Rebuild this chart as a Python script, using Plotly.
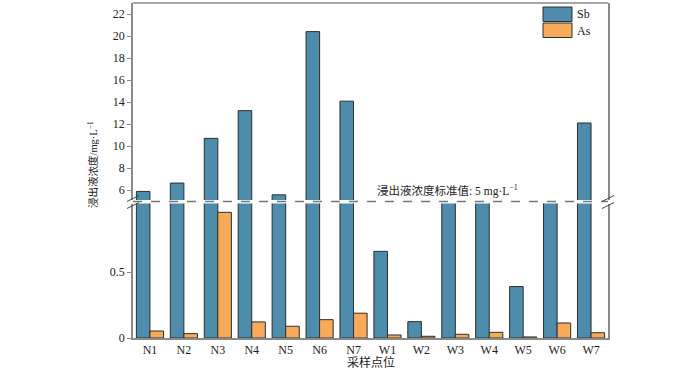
import plotly.graph_objects as go

sites = ["N1", "N2", "N3", "N4", "N5", "N6", "N7", "W1", "W2", "W3", "W4", "W5", "W6", "W7"]
sb = [5.88, 6.64, 10.7, 13.22, 5.57, 20.4, 14.08, 0.657, 0.124, 2.5, 3.0, 0.39, 2.2, 12.1]
as_ = [0.053, 0.033, 0.953, 0.122, 0.089, 0.139, 0.188, 0.023, 0.013, 0.028, 0.043, 0.008, 0.114, 0.04]
upper_ticks = [6, 8, 10, 12, 14, 16, 18, 20, 22]
lower_ticks = [0, 0.5]

SB_COLOR = "#4E8CAB"
AS_COLOR = "#F7AB5A"
EDGE = "#2e2e2e"
AX = "#8a8a8a"
FONT = "Liberation Serif, Times New Roman, Noto Sans CJK SC, serif"

W, H = 700, 370
L, R, T, B = 133, 92, 3, 32
PW, PH = W - L - R, H - T - B

def px(x):
    return (x - L) / PW

def py(y):
    return (H - B - y) / PH

fig = go.Figure()
for ax in ["y", "y2"]:
    fig.add_trace(go.Bar(x=sites, y=sb, name="Sb", yaxis=ax, marker=dict(color=SB_COLOR, line=dict(color=EDGE, width=1)), showlegend=False))
    fig.add_trace(go.Bar(x=sites, y=as_, name="As", yaxis=ax, marker=dict(color=AS_COLOR, line=dict(color=EDGE, width=1)), showlegend=False))

fig.update_layout(
    width=W, height=H,
    margin=dict(l=L, r=R, t=T, b=B),
    paper_bgcolor="white", plot_bgcolor="white",
    barmode="group", bargap=0.2, bargroupgap=0,
    font=dict(family=FONT, size=12, color="#222"),
    xaxis=dict(showline=True, linecolor=AX, linewidth=1.5, ticks="", showgrid=False,
               tickfont=dict(family=FONT, size=12, color="#222"), anchor="y"),
    yaxis=dict(domain=[0, py(203.5)], range=[0, 1.02], tickvals=lower_ticks, ticktext=["0", "0.5"],
               showline=True, mirror=True, linecolor=AX, linewidth=1.5, ticks="outside", ticklen=4,
               tickcolor=AX, showgrid=False, zeroline=False, tickfont=dict(family=FONT, size=12, color="#222")),
    yaxis2=dict(domain=[py(200), 1], range=[5.1, 23], tickvals=upper_ticks, anchor="x",
                showline=True, mirror=True, linecolor=AX, linewidth=1.5, ticks="outside", ticklen=4,
                tickcolor=AX, showgrid=False, zeroline=False, tickfont=dict(family=FONT, size=12, color="#222")),
)

shapes = []
# top frame line
shapes.append(dict(type="line", xref="paper", yref="paper", x0=0, x1=1, y0=1, y1=1, line=dict(color=AX, width=1.5)))
# dashed standard line
yd = py(201.5)
shapes.append(dict(type="line", xref="paper", yref="paper", x0=0, x1=1, y0=yd, y1=yd, line=dict(color="#777", width=1.3, dash="dash")))
# break marks
for xc in [133, 608]:
    for dy in [-3, 4]:
        yc = 201.5 + dy
        shapes.append(dict(type="line", xref="paper", yref="paper", x0=px(xc - 6), x1=px(xc + 6),
                           y0=py(yc + 3), y1=py(yc - 3), line=dict(color="#444", width=1)))
# manual legend
shapes.append(dict(type="rect", xref="paper", yref="paper", x0=px(543), x1=px(572), y0=py(21.5), y1=py(7),
                   fillcolor=SB_COLOR, line=dict(color=EDGE, width=1)))
shapes.append(dict(type="rect", xref="paper", yref="paper", x0=px(543), x1=px(572), y0=py(37.5), y1=py(23),
                   fillcolor=AS_COLOR, line=dict(color=EDGE, width=1)))
fig.update_layout(shapes=shapes)

ann = [
    dict(x=px(575), y=py(14), text="Sb", xanchor="left", yanchor="middle"),
    dict(x=px(575), y=py(31), text="As", xanchor="left", yanchor="middle"),
    dict(x=px(447), y=py(190), text="浸出液浓度标准值: 5 mg·L<sup>−1</sup>", xanchor="center", yanchor="middle", font=dict(size=11.5)),
    dict(x=px(92), y=py(165), text="浸出液浓度/mg·L<sup>−1</sup>", textangle=-90, xanchor="center", yanchor="middle", font=dict(size=10.5)),
    dict(x=0.5, y=py(362), text="采样点位", xanchor="center", yanchor="middle", font=dict(size=12)),
]
for a in ann:
    a.update(xref="paper", yref="paper", showarrow=False)
    if "font" not in a:
        a["font"] = dict(size=12)
    a["font"].update(family=FONT, color="#222")
fig.update_layout(annotations=ann)

fig.write_html("out.html", config={"displayModeBar": False},
               post_script="document.body.style.margin='0';document.body.style.padding='0';")
